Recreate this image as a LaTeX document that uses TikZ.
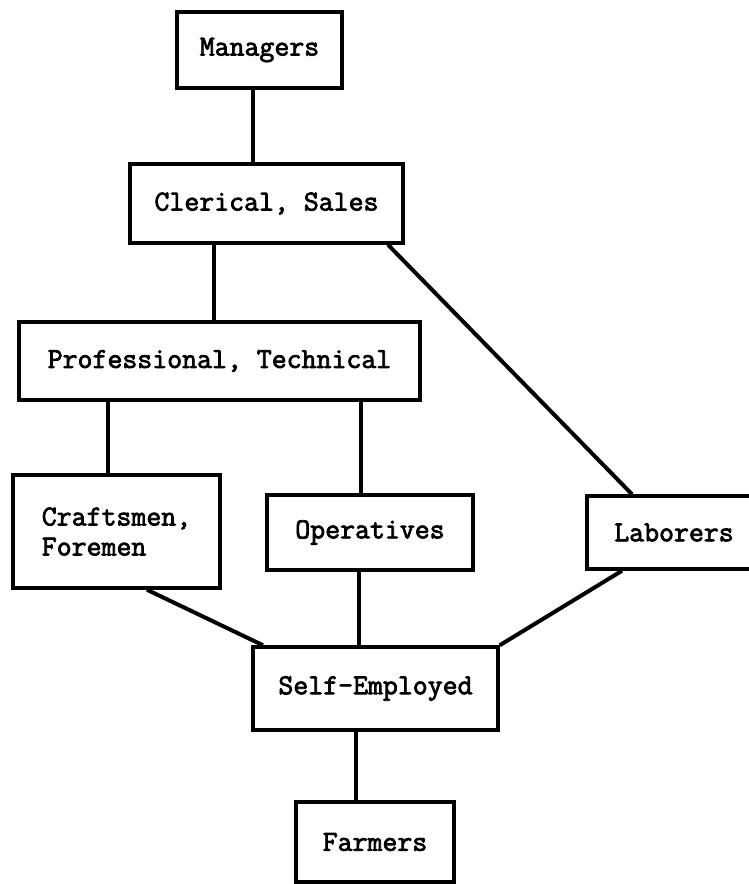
\documentclass[tikz,border=0pt]{standalone}
\usepackage{fontspec}
\newfontfamily\tw{Latin Modern Mono}[FakeBold=2.6]
\usetikzlibrary{calc}
\tikzset{
  box/.style={draw=black, line width=3.5pt, rectangle, inner sep=0pt,
    font=\tw\fontsize{29}{30}\selectfont, text=black, align=center},
  link/.style={draw=black, line width=4pt},
}
\begin{document}
\begin{tikzpicture}[x=1pt,y=-1pt]
\useasboundingbox[fill=white] (0,0) rectangle (748,884);
\node[box, minimum width=165pt, minimum height=76pt] (mgr) at (259.5,50) {Managers};
\node[box, minimum width=273pt, minimum height=79pt] (cler) at (266.5,203.5) {Clerical, Sales};
\node[box, minimum width=401pt, minimum height=78pt] (prof) at (219.5,361) {Professional, Technical};
\node[box, minimum width=207pt, minimum height=113pt, align=left] (craft) at (116.5,531.5) {Craftsmen,\\Foremen};
\node[box, minimum width=206pt, minimum height=75pt] (ops) at (370,532.5) {Operatives};
\node[box, minimum width=174pt, minimum height=73pt] (lab) at (674,532.5) {Laborers};
\node[box, minimum width=245pt, minimum height=83pt] (se) at (375.5,688.5) {Self-Employed};
\node[box, minimum width=158pt, minimum height=80pt] (farm) at (375,842) {Farmers};

\draw[link] ([xshift=-6.5pt]mgr.south) -- ([xshift=-13.5pt]cler.north);
\draw[link] ([xshift=-52.5pt]cler.south) -- ([xshift=-5.5pt]prof.north);
\draw[link] ([xshift=121.5pt]cler.south) -- ([xshift=-42pt]lab.north);
\draw[link] ([xshift=-111.5pt]prof.south) -- ([xshift=-8.5pt]craft.north);
\draw[link] ([xshift=141.5pt]prof.south) -- ([xshift=-9pt]ops.north);
\draw[link] ([xshift=30.5pt]craft.south) -- ([xshift=-112.5pt]se.north);
\draw[link] ([xshift=-11pt]ops.south) -- ([xshift=-16.5pt]se.north);
\draw[link] ([xshift=-52pt]lab.south) -- (se.north east);
\draw[link] ([xshift=-19.5pt]se.south) -- ([xshift=-19pt]farm.north);
\end{tikzpicture}
\end{document}
